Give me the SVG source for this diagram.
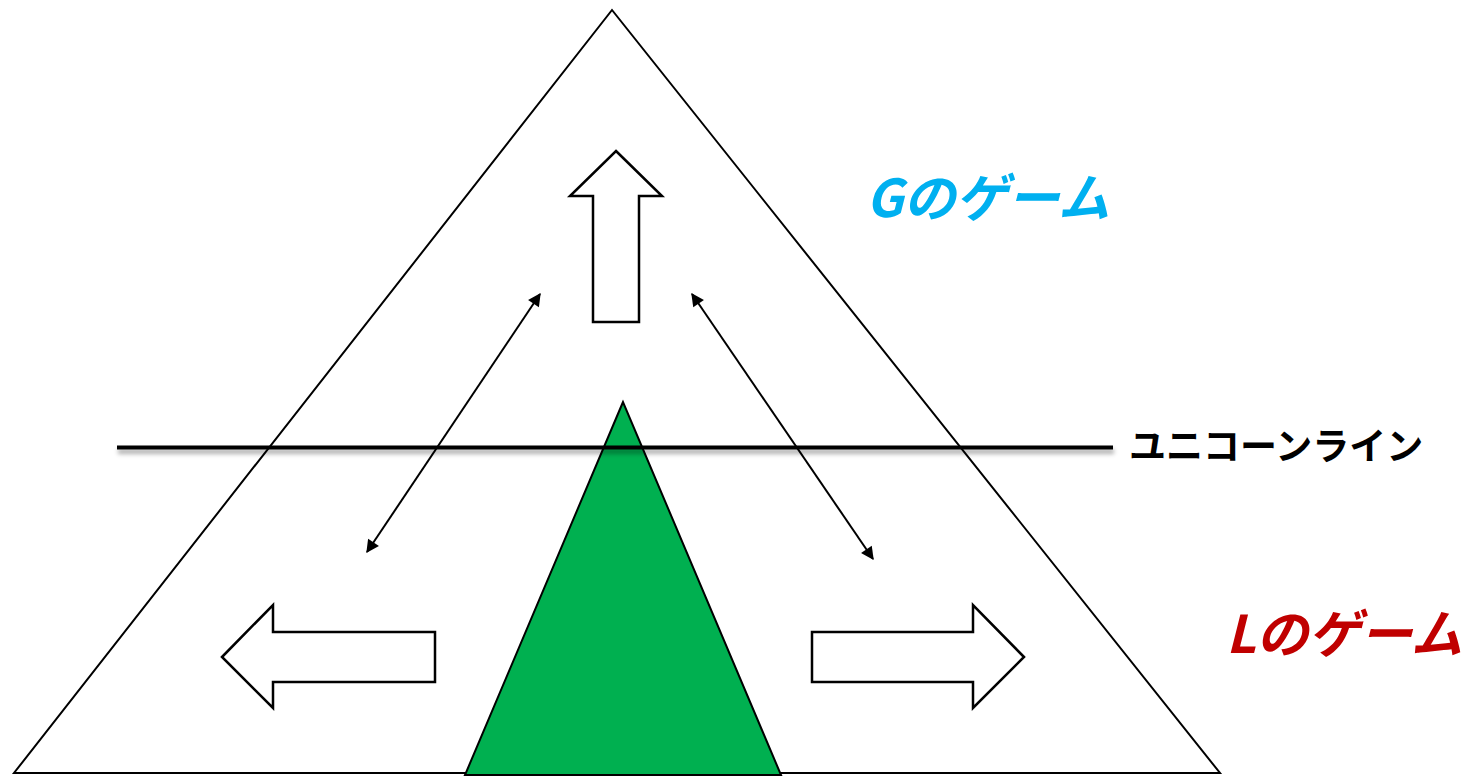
<svg xmlns="http://www.w3.org/2000/svg" width="1476" height="776" viewBox="0 0 1476 776">
<style>
.outline{fill:#fff;stroke:#000;stroke-width:2.5;stroke-linejoin:miter}
.conn{stroke:#000;stroke-width:2;fill:none}
.lbl{font-family:"Noto Sans CJK JP","Noto Sans",sans-serif;font-weight:bold}
</style>
<defs>
<marker id="ah" viewBox="0 0 10 10" refX="9" refY="5" markerWidth="7.5" markerHeight="6.5" markerUnits="strokeWidth" orient="auto-start-reverse">
<path d="M0,0 L10,5 L0,10 z" fill="#000"/>
</marker>
<filter id="sh" filterUnits="userSpaceOnUse" x="100" y="430" width="1030" height="40">
<feGaussianBlur stdDeviation="2"/>
</filter>
</defs>
<rect width="1476" height="776" fill="#fff"/>
<g id="big-triangle">
<polygon points="612,10 14,773 1220,773" fill="#fff" stroke="#000" stroke-width="2"/>
</g>
<g id="green-triangle">
<polygon points="623,402 465,775 781,775" fill="#00B050" stroke="#000" stroke-width="2"/>
</g>
<g id="unicorn-line">
<rect x="118" y="449" width="996" height="5" fill="#000" fill-opacity="0.3" filter="url(#sh)"/>
<rect x="117" y="445.5" width="996" height="4" fill="#000"/>
<text class="lbl" x="1129" y="460" font-size="37" fill="#000">ユニコーンライン</text>
</g>
<g id="up-arrow">
<polygon class="outline" points="616,151 662,196 639,196 639,322 593,322 593,196 570,196"/>
</g>
<g id="left-arrow">
<polygon class="outline" points="222,657 273,605 273,632 435,632 435,682 273,682 273,708"/>
</g>
<g id="right-arrow">
<polygon class="outline" points="1024,657 973,605 973,632 812,632 812,682 973,682 973,708"/>
</g>
<g id="connectors">
<line class="conn" x1="367" y1="552" x2="540" y2="294" marker-start="url(#ah)" marker-end="url(#ah)"/>
<line class="conn" x1="692" y1="294" x2="873" y2="559" marker-start="url(#ah)" marker-end="url(#ah)"/>
</g>
<g id="g-game">
<text class="lbl" x="866" y="217" font-size="52" font-style="italic" fill="#00B0F0">Gのゲーム</text>
</g>
<g id="l-game">
<text class="lbl" x="1226" y="653" font-size="52" font-style="italic" fill="#C00000">Lのゲーム</text>
</g>
</svg>
